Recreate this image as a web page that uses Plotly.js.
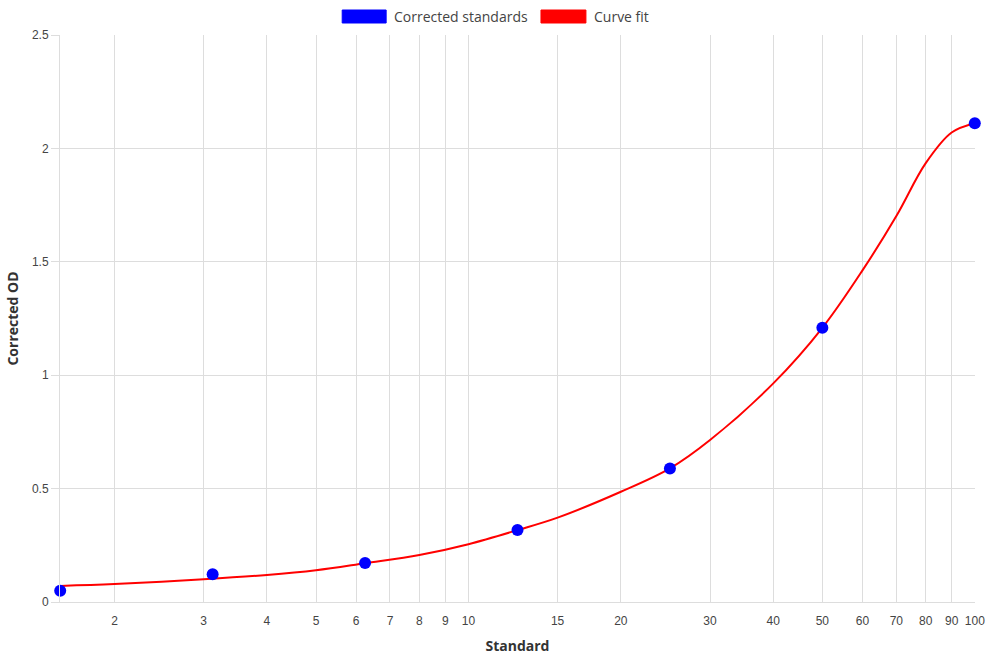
<!DOCTYPE html>
<html>
<head>
<meta charset="utf-8">
<script src="https://cdn.plot.ly/plotly-3.0.1.min.js"></script>
<style>
html,body{margin:0;padding:0;background:#fff;}
#chart{width:990px;height:660px;}
</style>
</head>
<body>
<div id="chart"></div>
<script>
// Standards (x) and corrected OD (y)
const standardX = [1.5625, 3.125, 6.25, 12.5, 25, 50, 100];
const correctedOD = [0.050, 0.122, 0.172, 0.317, 0.589, 1.209, 2.111];

// Curve fit samples
const fitX = [1.5625, 2, 3, 4, 5, 6.25, 8, 10, 12.5, 15, 20, 25, 30, 40, 50, 60, 70, 80, 90, 100];
const fitY = [0.071, 0.079, 0.100, 0.119, 0.140, 0.171, 0.207, 0.255, 0.317, 0.372, 0.486, 0.589, 0.714, 0.964, 1.209, 1.462, 1.702, 1.935, 2.070, 2.111];

// Tick labels
const xTickVals = [2, 3, 4, 5, 6, 7, 8, 9, 10, 15, 20, 30, 40, 50, 60, 70, 80, 90, 100];
const xTickText = ["2", "3", "4", "5", "6", "7", "8", "9", "10", "15", "20", "30", "40", "50", "60", "70", "80", "90", "100"];
const yTickVals = [0, 0.5, 1, 1.5, 2, 2.5];
const yTickText = ["0", "0.5", "1", "1.5", "2", "2.5"];

const legendNames = ["Corrected standards", "Curve fit"];
const gridColor = "#dddddd";
const tickFont = {family: "Liberation Sans, Arial, sans-serif", size: 12, color: "#444"};
const titleFont = {family: "Open Sans, sans-serif", size: 14, color: "#333", weight: 700};

const traces = [
  {
    x: fitX, y: fitY, type: "scatter", mode: "lines", name: legendNames[1],
    line: {color: "#ff0000", width: 2, shape: "spline", smoothing: 1},
    showlegend: false, hoverinfo: "skip", cliponaxis: false
  },
  {
    x: standardX, y: correctedOD, type: "scatter", mode: "markers", name: legendNames[0],
    marker: {color: "#0000ff", size: 12},
    showlegend: false, cliponaxis: false
  }
];

const layout = {
  width: 990, height: 660,
  margin: {l: 59.5, r: 14.5, t: 35, b: 58},
  paper_bgcolor: "#fff", plot_bgcolor: "#fff",
  xaxis: {
    type: "log",
    range: [Math.log10(standardX[0]) - 0.0004, 2.0004],
    tickmode: "array", tickvals: xTickVals, ticktext: xTickText,
    showgrid: true, gridcolor: gridColor, gridwidth: 1,
    showline: true, linecolor: gridColor, linewidth: 1, mirror: false,
    ticks: "", ticklabelstandoff: 8,
    tickfont: tickFont, zeroline: false,
    title: {text: "Standard", font: titleFont, standoff: 13}
  },
  yaxis: {
    range: [0, 2.5],
    tickmode: "array", tickvals: yTickVals, ticktext: yTickText,
    showgrid: true, gridcolor: gridColor, gridwidth: 1,
    showline: true, linecolor: gridColor, linewidth: 1,
    ticks: "outside", ticklen: 8, tickcolor: gridColor, tickwidth: 1,
    tickfont: tickFont, zeroline: false,
    title: {text: "Corrected OD", font: titleFont, standoff: 10}
  },
  shapes: [
    {type: "rect", xref: "paper", yref: "paper", x0: (342-59.5)/916, x1: (386-59.5)/916, y0: (602-23)/567, y1: (602-10)/567,
     fillcolor: "#0000ff", line: {color: "#0000ff", width: 1}},
    {type: "rect", xref: "paper", yref: "paper", x0: (541-59.5)/916, x1: (586-59.5)/916, y0: (602-23)/567, y1: (602-10)/567,
     fillcolor: "#ff0000", line: {color: "#ff0000", width: 1}}
  ],
  annotations: [
    {xref: "paper", yref: "paper", x: (392-59.5)/916, y: (602-16.5)/567, xanchor: "left", yanchor: "middle",
     text: legendNames[0], showarrow: false, font: {family: "Open Sans, sans-serif", size: 14, color: "#444"}},
    {xref: "paper", yref: "paper", x: (592-59.5)/916, y: (602-16.5)/567, xanchor: "left", yanchor: "middle",
     text: legendNames[1], showarrow: false, font: {family: "Open Sans, sans-serif", size: 14, color: "#444"}}
  ],
  showlegend: false
};

Plotly.newPlot("chart", traces, layout, {displayModeBar: false, staticPlot: true});
</script>
</body>
</html>
